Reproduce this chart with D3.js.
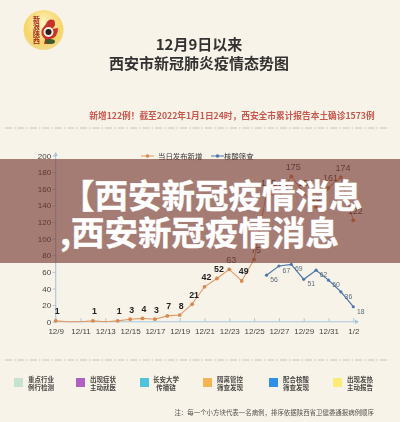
<!DOCTYPE html>
<html><head><meta charset="utf-8">
<style>html,body{margin:0;padding:0;background:#f8f3e9}svg{display:block}</style>
<script src="https://cdnjs.cloudflare.com/ajax/libs/d3/7.8.5/d3.min.js"></script>
</head><body><svg id="c" width="400" height="422"></svg>
<script>
const days=["12/9","12/10","12/11","12/12","12/13","12/14","12/15","12/16","12/17","12/18","12/19","12/20","12/21","12/22","12/23","12/24","12/25","12/26","12/27","12/28","12/29","12/30","12/31","1/1","1/2"];
const tickDays=["12/9","12/11","12/13","12/15","12/17","12/19","12/21","12/23","12/25","12/27","12/29","12/31","1/2"];
const yTicks=[0,20,40,60,80,100,120,140,160,180,200];
const reported=[1,0,0,1,0,1,3,4,3,7,8,21,42,52,63,49,75,155,150,175,155,138,161,174,122];
const screening=[null,null,null,null,null,null,null,null,null,null,null,null,null,null,null,null,null,56,67,69,51,62,50,36,18];
const seriesNames=["当日发布新增","核酸筛查"];
const legendNames=[["重点行业","例行检测"],["出现症状","主动就医"],["长安大学","传播链"],["隔离管控","筛查发现"],["配合核酸","筛查发现"],["出现发热","主动报告"]];
const legendColors=["#c5e3cf","#b060c0","#4fc3dc","#f5b552","#2e90e8","#fdeb78"];
const titleLines=["12月9日以来","西安市新冠肺炎疫情态势图"];
const subtitle="新增122例！截至2022年1月1日24时，西安全市累计报告本土确诊1573例";
const note="注：每一个小方块代表一名病例，排序依据陕西省卫健委通报病例顺序";
const bannerLines=["【西安新冠疫情消息",",西安新冠疫情消息"];
const logoChars=["新浪","陕西"];

const F='"Noto Sans CJK SC","Noto Sans",sans-serif', L='"Liberation Sans",Arial,sans-serif';
const top_=d3.select("#c");
const orange="#dd9a66", blue="#4f79ad", axisC="#a9c6dc";
const defs=top_.append("defs");
const grad=defs.append("radialGradient").attr("id","lg").attr("cx","50%").attr("cy","35%").attr("r","65%");
grad.append("stop").attr("offset","0%").attr("stop-color","#fff6c8");
grad.append("stop").attr("offset","70%").attr("stop-color","#f6d568");
grad.append("stop").attr("offset","100%").attr("stop-color","#f3d98a");
const blur=defs.append("filter").attr("id","soft").attr("filterUnits","userSpaceOnUse").attr("x",0).attr("y",0).attr("width",400).attr("height",422);
blur.append("feGaussianBlur").attr("stdDeviation",0.4);
const svg=top_.append("g").attr("filter","url(#soft)");

// logo
const logo=svg.append("g");
logo.append("circle").attr("cx",43.5).attr("cy",30).attr("r",20).attr("fill","url(#lg)");
logo.append("path").attr("d","M46 24 Q48 18 54 20 Q57 25 52 29 L58 28 Q58 38 50 39 L52 44 L44 44 L45 39 Q40 35 42 29 Z").attr("fill","#c8302a");
logo.append("circle").attr("cx",48.5).attr("cy",32).attr("r",5).attr("fill","#f4efe6");
logo.append("circle").attr("cx",48.5).attr("cy",32).attr("r",3).attr("fill","#2a1a18");
logo.append("ellipse").attr("cx",50).attr("cy",41.5).attr("rx",5).attr("ry",2.5).attr("fill","#3c5a2e");
logoChars.forEach((s,i)=>[...s].forEach((ch,j)=>logo.append("text").attr("x",36.5).attr("y",21.5+i*14+j*7).attr("font-family",F).attr("font-size",7).attr("font-weight",700).attr("fill","#a8281f").attr("text-anchor","middle").text(ch)));

// headings
svg.selectAll("text.t").data(titleLines).join("text").attr("class","t").attr("x",199).attr("y",(d,i)=>49.5+i*19.5)
 .attr("text-anchor","middle").attr("font-family",F).attr("font-weight",700).attr("font-size",15).attr("fill","#333230").text(d=>d);
svg.append("text").attr("x",232).attr("y",118.5).attr("text-anchor","middle").attr("font-family",F).attr("font-weight",700).attr("font-size",8.7).attr("fill","#c8584c").text(subtitle);

// separators
[128,360].forEach(y=>svg.append("line").attr("x1",5).attr("x2",388).attr("y1",y).attr("y2",y).attr("stroke","#b9b5ad").attr("stroke-width",.8).attr("stroke-dasharray","7 2 1.5 2"));

// chart
const x=d3.scalePoint().domain(days).range([55.7,353.3]);
const y=d3.scaleLinear().domain([0,200]).range([321.7,155.5]);
const gx=svg.append("g").attr("transform","translate(0,321.7)").call(d3.axisBottom(x).tickValues(tickDays).tickSize(-3.5).tickPadding(7));
const gy=svg.append("g").attr("transform","translate(55.7,0)").call(d3.axisLeft(y).tickValues(yTicks).tickSize(3).tickPadding(1.5));
[gx,gy].forEach(g=>{g.selectAll(".domain").attr("stroke",axisC).attr("stroke-width",1.1);g.selectAll("line").attr("stroke",axisC);
 g.selectAll("text").attr("font-family",L).attr("font-size",8).attr("fill","#444");});
gx.select(".domain").attr("d","M55.7,0H358");
gy.select(".domain").attr("d","M0,321.7V153");
svg.append("path").attr("d",d3.line()([[359,321.7],[355,319.5],[355,323.9]])+"Z").attr("fill",axisC);
svg.append("path").attr("d",d3.line()([[55.7,152],[53.5,156],[57.9,156]])+"Z").attr("fill",axisC);

const rows=days.map((d,i)=>({d,r:reported[i],s:screening[i],i}));
const line=d3.line().x(d=>x(d.d)).y(d=>y(d.v));
const big=p=>p.r>=63&&p.r!=49;
svg.append("path").attr("d",line(rows.map(p=>({d:p.d,v:p.r})))).attr("fill","none").attr("stroke",orange).attr("stroke-width",1.1);
svg.selectAll("circle.r").data(rows.filter(p=>p.r>0)).join("circle").attr("class","r").attr("cx",p=>x(p.d)).attr("cy",p=>y(p.r)).attr("r",1.9).attr("fill","#d98a52");
const sRows=rows.filter(p=>p.s!=null);
svg.append("path").attr("d",line(sRows.map(p=>({d:p.d,v:p.s})))).attr("fill","none").attr("stroke",blue).attr("stroke-width",1.2);
svg.selectAll("circle.s").data(sRows).join("circle").attr("class","s").attr("cx",p=>x(p.d)).attr("cy",p=>y(p.s)).attr("r",1.6).attr("fill",blue);
svg.selectAll("text.rl").data(rows.filter(p=>p.r>0)).join("text").attr("class","rl")
 .attr("x",p=>x(p.d)+(p.i>10?2:1.5)).attr("y",p=>y(p.r)-6.5)
 .attr("text-anchor","middle").attr("font-family",L).attr("font-size",p=>big(p)?9:8.8)
 .attr("font-weight",p=>big(p)?400:700).attr("fill",p=>big(p)?"#5a5048":"#222").text(p=>p.r);
svg.selectAll("text.sl").data(sRows).join("text").attr("class","sl").attr("x",p=>x(p.d)+7.5).attr("y",p=>y(p.s)+7)
 .attr("text-anchor","middle").attr("font-family",L).attr("font-size",6.8).attr("fill","#5b6b7c").text(p=>p.s);

// series legend
const sl=svg.append("g");
[[141,orange,"#d98a52",158],[211,blue,blue,224]].forEach((a,i)=>{
 sl.append("line").attr("x1",a[0]).attr("x2",a[0]+13).attr("y1",156).attr("y2",156).attr("stroke",a[1]).attr("stroke-width",1);
 sl.append("circle").attr("cx",a[0]+6.5).attr("cy",156).attr("r",1.8).attr("fill",a[2]);
 sl.append("text").attr("x",a[3]).attr("y",158.8).attr("font-family",F).attr("font-size",7.4).attr("fill","#3a3a38").text(seriesNames[i]);
});

// category legend
const swX=[18.5,80.5,144.5,207.5,273.5,337.5], tX=[41,103,166,230,296,360];
legendNames.forEach((n,i)=>{
 svg.append("rect").attr("x",swX[i]-4.5).attr("y",378).attr("width",9).attr("height",9).attr("fill",legendColors[i]);
 n.forEach((s,j)=>svg.append("text").attr("x",tX[i]).attr("y",382+j*8).attr("text-anchor","middle").attr("font-family",F).attr("font-weight",700).attr("font-size",6.5).attr("fill","#4a4844").text(s));
});
svg.append("text").attr("x",374).attr("y",414.5).attr("text-anchor","end").attr("font-family",F).attr("font-size",6.45).attr("fill","#55524d").text(note);

// banner
top_.append("rect").attr("x",0).attr("y",159).attr("width",400).attr("height",104).attr("fill","rgb(110,45,38)").attr("fill-opacity",.6);
top_.selectAll("text.b").data(bannerLines).join("text").attr("class","b").attr("x",(d,i)=>i?60:61).attr("y",(d,i)=>i?245:208)
 .attr("font-family",F).attr("font-weight",700).attr("font-size",33.5).attr("fill","#fff").attr("stroke","#fff").attr("stroke-width",.4).text(d=>d);
</script></body></html>
